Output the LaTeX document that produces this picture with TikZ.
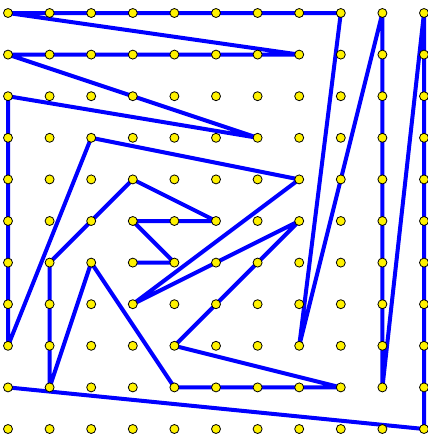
\documentclass[tikz,border=0pt]{standalone}
\usetikzlibrary{backgrounds}
\begin{document}
\begin{tikzpicture}[x=1pt,y=-1pt,
  dot/.style={circle,draw=black,fill=yellow,line width=0.8pt,minimum size=9pt,inner sep=0pt},
  route/.style={draw=blue,line width=4pt,line join=miter,miter limit=2}]
\useasboundingbox (0,0) rectangle (428,437);
\foreach \c in {0,...,10}{
  \foreach \r in {0,...,10}{
    \node[dot] (d-\c-\r) at ({8+41.6*\c},{13+41.6*\r}) {};
  }
}
\begin{scope}[on background layer]
\draw[route] (d-3-6.center) -- (d-4-6.center) -- (d-3-5.center) -- (d-5-5.center)
  -- (d-3-4.center) -- (d-1-6.center) -- (d-1-9.center) -- (d-2-6.center)
  -- (d-4-9.center) -- (d-8-9.center) -- (d-4-8.center) -- (d-7-5.center)
  -- (d-3-7.center) -- (d-7-4.center) -- (d-2-3.center) -- (d-0-8.center)
  -- (d-0-2.center) -- (d-6-3.center) -- (d-0-1.center) -- (d-7-1.center)
  -- (d-0-0.center) -- (d-8-0.center) -- (d-7-8.center) -- (d-9-0.center)
  -- (d-9-9.center) -- (d-10-0.center) -- (d-10-10.center) -- (d-0-9.center);
\end{scope}
\end{tikzpicture}
\end{document}
